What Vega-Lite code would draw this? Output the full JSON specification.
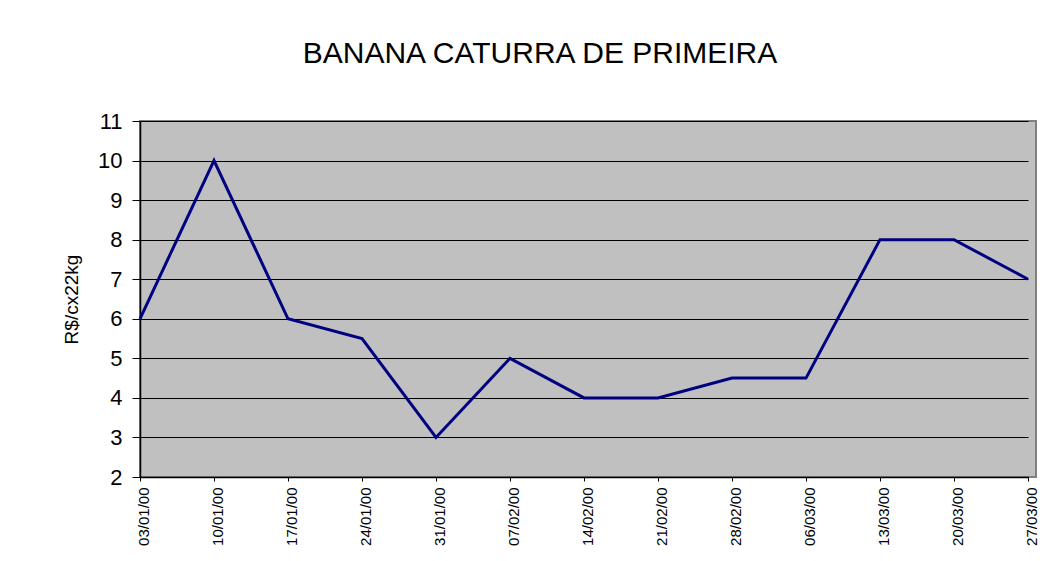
{
  "$schema": "https://vega.github.io/schema/vega-lite/v6.json",
  "autosize": {"type": "none"},
  "width": 896,
  "height": 356,
  "padding": {"left": 140, "top": 121, "right": 19, "bottom": 84},
  "background": "white",
  "config": {
    "font": "Liberation Sans",
    "view": {"fill": "#C0C0C0", "stroke": "#808080", "strokeWidth": 2}
  },
  "title": {
    "text": "BANANA CATURRA DE PRIMEIRA",
    "font": "Liberation Sans",
    "fontSize": 30,
    "fontWeight": "normal",
    "color": "black",
    "anchor": "middle",
    "baseline": "alphabetic",
    "offset": 17,
    "dx": -48
  },
  "data": {
    "values": [
      {"date": "03/01/00", "price": 6},
      {"date": "10/01/00", "price": 10},
      {"date": "17/01/00", "price": 6},
      {"date": "24/01/00", "price": 5.5},
      {"date": "31/01/00", "price": 3},
      {"date": "07/02/00", "price": 5},
      {"date": "14/02/00", "price": 4},
      {"date": "21/02/00", "price": 4},
      {"date": "28/02/00", "price": 4.5},
      {"date": "06/03/00", "price": 4.5},
      {"date": "13/03/00", "price": 8},
      {"date": "20/03/00", "price": 8},
      {"date": "27/03/00", "price": 7}
    ]
  },
  "mark": {"type": "line", "color": "#000080", "strokeWidth": 3, "strokeJoin": "miter"},
  "encoding": {
    "x": {
      "field": "date",
      "type": "ordinal",
      "sort": null,
      "scale": {"type": "point", "range": [0, 888], "padding": 0},
      "axis": {
        "title": null,
        "labelAngle": -90,
        "labelAlign": "right",
        "labelBaseline": "middle",
        "labelFontSize": 15,
        "labelColor": "black",
        "labelPadding": 6,
        "labelOffset": 3,
        "tickSize": 4,
        "tickColor": "black",
        "domainColor": "black",
        "domainWidth": 1.5,
        "grid": false
      }
    },
    "y": {
      "field": "price",
      "type": "quantitative",
      "scale": {"domain": [2, 11], "nice": false, "zero": false},
      "axis": {
        "title": "R$/cx22kg",
        "titleFontSize": 19,
        "titleFontWeight": "normal",
        "titleColor": "black",
        "titlePadding": 16,
        "values": [2, 3, 4, 5, 6, 7, 8, 9, 10, 11],
        "labelFontSize": 22,
        "labelColor": "black",
        "labelPadding": 10,
        "tickSize": 8,
        "tickColor": "black",
        "domainColor": "black",
        "domainWidth": 1.5,
        "grid": true,
        "gridColor": "black",
        "gridWidth": 1,
        "gridOpacity": 1
      }
    }
  }
}
